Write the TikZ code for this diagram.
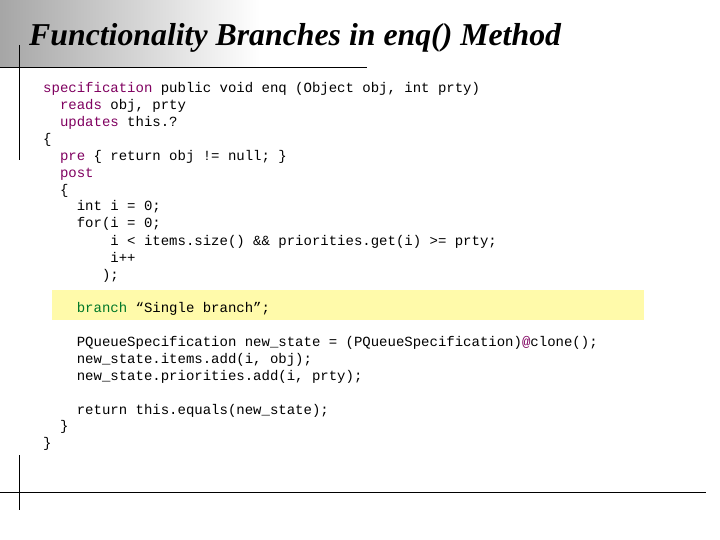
\documentclass[tikz,border=0pt]{standalone}
\usepackage{fontspec}
\setmainfont{Liberation Serif}
\setmonofont{Liberation Mono}
\definecolor{kw}{RGB}{128,0,96}
\definecolor{br}{RGB}{0,120,40}
\definecolor{hl}{RGB}{255,250,170}
\begin{document}
\begin{tikzpicture}[x=1pt,y=-1pt,
  code/.style={anchor=base west,inner sep=0pt,font=\fontsize{14}{15}\ttfamily},
  rule/.style={line width=0.9pt,black}]
\useasboundingbox (0,0) rectangle (720,540);
\fill[white] (0,0) rectangle (720,540);
\shade[left color=black!35,right color=white] (0,0) rectangle (260,67);
\fill[hl] (52,290) rectangle (644,320);
\node[anchor=base west,inner sep=0pt,font=\fontsize{31.8}{33}\selectfont\bfseries\itshape] (title) at (29,46) {Functionality Branches in enq() Method};
\coordinate (h1a) at (0,67); \coordinate (h1b) at (367,67);
\coordinate (v1a) at (19,45); \coordinate (v1b) at (19,160);
\coordinate (h2a) at (0,492); \coordinate (h2b) at (706,492);
\coordinate (v2a) at (19,455); \coordinate (v2b) at (19,510);
\draw[rule] (h1a) -- (h1b); \draw[rule] (v1a) -- (v1b);
\draw[rule] (h2a) -- (h2b); \draw[rule] (v2a) -- (v2b);
\node[code] (l1) at (43,93) {\textcolor{kw}{specification} public void enq (Object obj, int prty)};
\node[code] (l2) at (43,110) {\ \ \textcolor{kw}{reads} obj, prty};
\node[code] (l3) at (43,127) {\ \ \textcolor{kw}{updates} this.?};
\node[code] (l4) at (43,144) {\{};
\node[code] (l5) at (43,161) {\ \ \textcolor{kw}{pre} \{ return obj != null; \}};
\node[code] (l6) at (43,178) {\ \ \textcolor{kw}{post}};
\node[code] (l7) at (43,195) {\ \ \{};
\node[code] (l8) at (43,211) {\ \ \ \ int i = 0;};
\node[code] (l9) at (43,228) {\ \ \ \ for(i = 0;};
\node[code] (l10) at (43,245) {\ \ \ \ \ \ \ \ i < items.size() \&\& priorities.get(i) >= prty;};
\node[code] (l11) at (43,262) {\ \ \ \ \ \ \ \ i++};
\node[code] (l12) at (43,279) {\ \ \ \ \ \ \ );};
\node[code] (l13) at (43,312) {\ \ \ \ \textcolor{br}{branch} “Single branch”;};
\node[code] (l14) at (43,346) {\ \ \ \ PQueueSpecification new\_state = (PQueueSpecification)\textcolor{kw}{@}clone();};
\node[code] (l15) at (43,363) {\ \ \ \ new\_state.items.add(i, obj);};
\node[code] (l16) at (43,380) {\ \ \ \ new\_state.priorities.add(i, prty);};
\node[code] (l17) at (43,414) {\ \ \ \ return this.equals(new\_state);};
\node[code] (l18) at (43,430) {\ \ \}};
\node[code] (l19) at (43,447) {\}};
\end{tikzpicture}
\end{document}
